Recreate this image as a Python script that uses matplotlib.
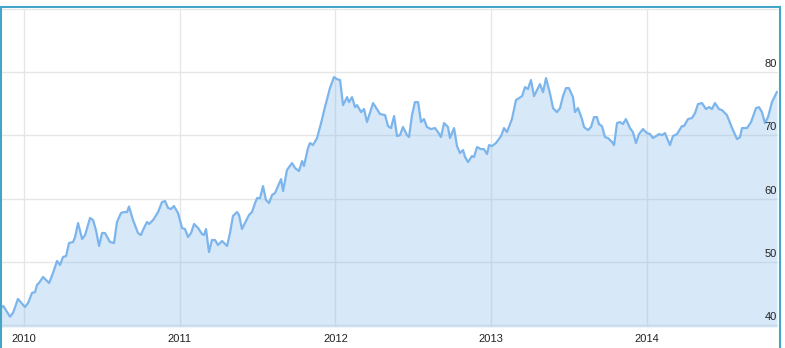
import matplotlib
matplotlib.use("Agg")
import matplotlib.pyplot as plt
from matplotlib.lines import Line2D
from matplotlib.transforms import blended_transform_factory

plt.rcParams['font.family'] = ['Liberation Sans', 'DejaVu Sans']

# decimal years and values
dates = [
    2009.846, 2009.867, 2009.910, 2009.929, 2009.961, 2010.006, 2010.026, 2010.051, 2010.071, 2010.083,
    2010.096, 2010.122, 2010.135, 2010.161, 2010.186, 2010.212, 2010.231, 2010.250, 2010.270, 2010.289,
    2010.315, 2010.328, 2010.347, 2010.373, 2010.392, 2010.424, 2010.443, 2010.462, 2010.482, 2010.501,
    2010.520, 2010.552, 2010.578, 2010.597, 2010.623, 2010.642, 2010.662, 2010.674, 2010.700, 2010.732,
    2010.751, 2010.764, 2010.790, 2010.803, 2010.829, 2010.861, 2010.886, 2010.906, 2010.925, 2010.944,
    2010.963, 2010.989, 2011.015, 2011.034, 2011.053, 2011.073, 2011.092, 2011.118, 2011.143, 2011.156,
    2011.169, 2011.188, 2011.207, 2011.227, 2011.246, 2011.272, 2011.304, 2011.323, 2011.342, 2011.368,
    2011.381, 2011.400, 2011.419, 2011.445, 2011.464, 2011.484, 2011.497, 2011.516, 2011.535, 2011.554,
    2011.574, 2011.593, 2011.612, 2011.651, 2011.664, 2011.689, 2011.721, 2011.741, 2011.766, 2011.786,
    2011.798, 2011.824, 2011.837, 2011.856, 2011.882, 2011.908, 2011.933, 2011.965, 2011.991, 2012.010,
    2012.030, 2012.049, 2012.075, 2012.087, 2012.107, 2012.126, 2012.139, 2012.165, 2012.184, 2012.203,
    2012.242, 2012.287, 2012.319, 2012.338, 2012.357, 2012.377, 2012.396, 2012.415, 2012.434, 2012.460,
    2012.473, 2012.492, 2012.511, 2012.531, 2012.550, 2012.569, 2012.588, 2012.614, 2012.640, 2012.659,
    2012.678, 2012.698, 2012.723, 2012.736, 2012.762, 2012.781, 2012.800, 2012.820, 2012.833, 2012.852,
    2012.877, 2012.890, 2012.910, 2012.935, 2012.954, 2012.974, 2012.987, 2013.006, 2013.031, 2013.064,
    2013.083, 2013.102, 2013.134, 2013.160, 2013.199, 2013.218, 2013.237, 2013.256, 2013.276, 2013.314,
    2013.334, 2013.353, 2013.378, 2013.398, 2013.423, 2013.443, 2013.462, 2013.481, 2013.500, 2013.526,
    2013.539, 2013.558, 2013.584, 2013.597, 2013.623, 2013.642, 2013.661, 2013.680, 2013.693, 2013.712,
    2013.732, 2013.751, 2013.777, 2013.790, 2013.809, 2013.828, 2013.847, 2013.866, 2013.892, 2013.911,
    2013.931, 2013.950, 2013.976, 2014.001, 2014.021, 2014.040, 2014.079, 2014.098, 2014.117, 2014.136,
    2014.149, 2014.168, 2014.194, 2014.226, 2014.239, 2014.265, 2014.290, 2014.310, 2014.329, 2014.355,
    2014.380, 2014.400, 2014.419, 2014.438, 2014.464, 2014.483, 2014.515, 2014.548, 2014.580, 2014.599,
    2014.612, 2014.644, 2014.670, 2014.702, 2014.721, 2014.740, 2014.759, 2014.779, 2014.804, 2014.836,
]
values = [
    42.73, 43.05, 41.36, 41.95, 44.16, 42.89, 43.53, 45.10, 45.26, 46.37,
    46.68, 47.63, 47.31, 46.68, 48.26, 50.16, 49.52, 50.79, 50.95, 53.00,
    53.16, 53.95, 56.16, 53.63, 54.26, 56.95, 56.63, 55.05, 52.53, 54.58,
    54.58, 53.16, 53.00, 56.32, 57.74, 57.89, 57.89, 58.76, 56.63, 54.58,
    54.26, 55.05, 56.32, 56.00, 56.63, 57.89, 59.47, 59.63, 58.53, 58.37,
    58.84, 57.74, 55.37, 55.21, 53.95, 54.58, 56.00, 55.37, 54.42, 54.26,
    55.21, 51.58, 53.47, 53.47, 52.68, 53.32, 52.53, 54.58, 57.26, 57.89,
    57.42, 55.21, 56.16, 57.42, 57.89, 59.32, 60.10, 60.10, 62.00, 59.79,
    59.32, 60.58, 60.89, 63.10, 61.21, 64.53, 65.63, 64.84, 64.37, 65.95,
    65.16, 68.00, 68.79, 68.47, 69.58, 71.95, 74.47, 77.47, 79.21, 78.89,
    78.74, 74.79, 76.05, 75.26, 76.05, 74.47, 74.79, 73.68, 74.16, 72.11,
    75.11, 73.37, 73.21, 71.47, 71.16, 73.05, 69.89, 70.05, 71.32, 70.05,
    69.74, 73.21, 75.26, 75.26, 72.11, 72.58, 71.32, 71.00, 71.16, 70.53,
    69.74, 71.95, 71.32, 69.58, 71.16, 68.32, 67.21, 67.68, 66.58, 65.79,
    66.74, 66.58, 68.16, 67.84, 67.84, 67.05, 68.47, 68.32, 68.79, 69.89,
    71.16, 70.53, 72.58, 75.58, 76.21, 77.63, 77.32, 78.74, 76.21, 78.11,
    76.84, 79.05, 76.68, 74.32, 73.68, 74.32, 76.21, 77.47, 77.47, 76.05,
    73.68, 74.32, 72.58, 71.32, 70.84, 71.32, 72.89, 72.89, 71.79, 71.47,
    69.74, 69.58, 68.95, 68.47, 71.95, 72.11, 71.79, 72.58, 71.16, 70.53,
    68.79, 70.21, 71.00, 70.37, 70.21, 69.58, 70.21, 70.05, 70.37, 69.26,
    68.47, 69.89, 70.21, 71.47, 71.47, 72.58, 72.74, 73.53, 74.95, 75.11,
    74.16, 74.47, 74.16, 75.11, 74.16, 74.00, 73.21, 71.16, 69.42, 69.74,
    71.16, 71.16, 72.11, 74.32, 74.47, 73.68, 71.95, 72.89, 75.26, 76.84,
]

year_ticks = [2010, 2011, 2012, 2013, 2014]
value_ticks = [40, 50, 60, 70, 80, 90]
value_labels = ['40', '50', '60', '70', '80', '']

line_color = '#7cb5ec'
grid_color = '#e6e6e6'

W, H = 785, 348
fig = plt.figure(figsize=(W / 100, H / 100), dpi=100)
ax = fig.add_axes([1 / W, (H - 327) / H, 777 / W, (327 - 8.5) / H])

ax.fill_between(dates, values, 39.73, color=line_color, alpha=0.3, linewidth=0, zorder=2)
ax.plot(dates, values, color=line_color, linewidth=1.6, zorder=3, solid_joinstyle='round')

ax.set_xlim(2009.852, 2014.843)
ax.set_ylim(39.73, 90.05)

ax.set_xticks(year_ticks)
ax.set_xticklabels([str(y) for y in year_ticks])
ax.set_yticks(value_ticks)
ax.set_yticklabels([])
ax.tick_params(axis='x', length=0, pad=5, labelsize=8, labelcolor='#222222')
ax.tick_params(axis='y', length=0)
ax.grid(True, color=grid_color, linewidth=1, zorder=1)
ax.set_axisbelow(True)
for s in ax.spines.values():
    s.set_visible(False)

# y labels sit inside the plot, right aligned, above their grid line
trans = blended_transform_factory(ax.transAxes, ax.transData)
for v, lab in zip(value_ticks, value_labels):
    ax.text(0.9985, v + 0.5, lab, transform=trans, ha='right', va='bottom',
            fontsize=8, color='#222222', zorder=4)

# container border
border = '#45a5c9'
fig.add_artist(Line2D([0.5 / W, 0.5 / W], [0, (H - 7) / H], color=border, linewidth=1.5))
fig.add_artist(Line2D([0, 779.5 / W], [(H - 7) / H, (H - 7) / H], color=border, linewidth=1.5))
fig.add_artist(Line2D([779.5 / W, 779.5 / W], [0, (H - 7) / H], color=border, linewidth=1.5))

fig.savefig('out.png', dpi=100)
